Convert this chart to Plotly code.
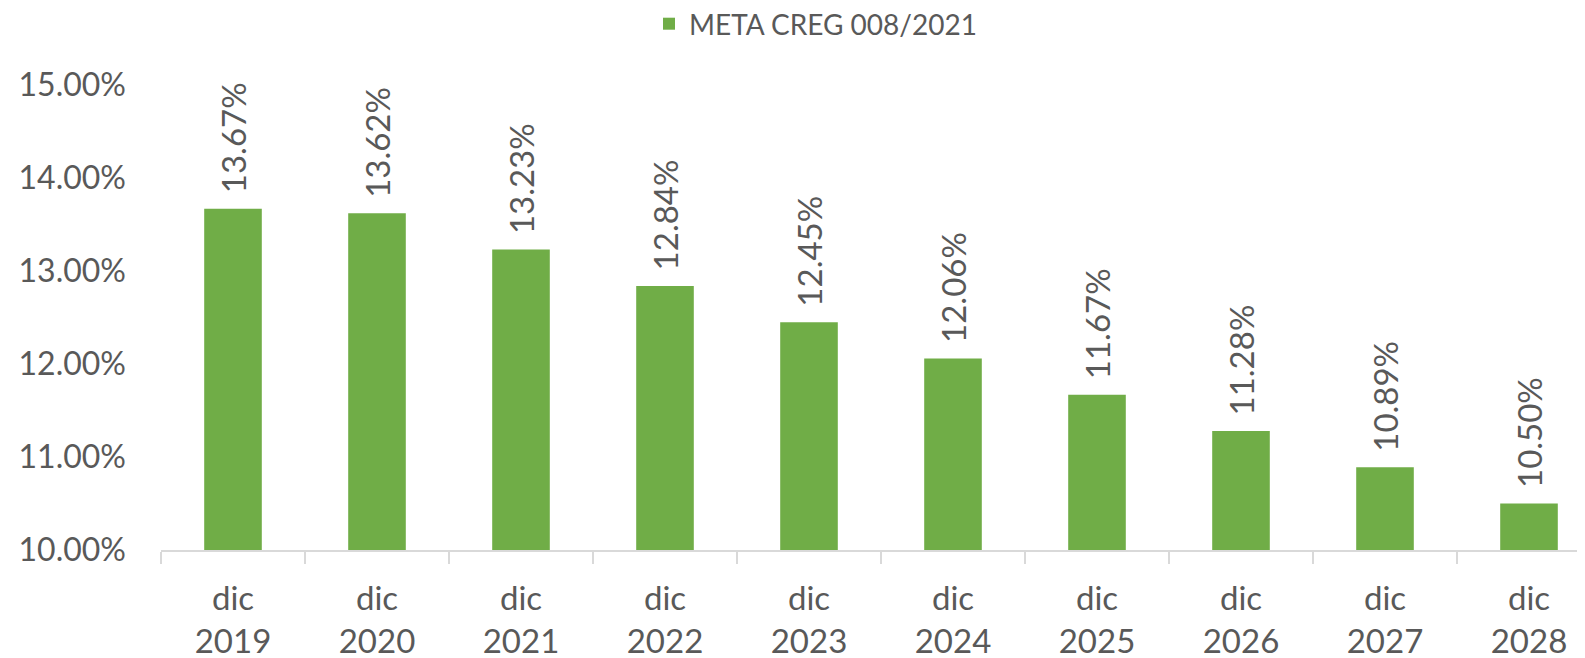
import plotly.graph_objects as go

categories = ["dic<br>2019", "dic<br>2020", "dic<br>2021", "dic<br>2022", "dic<br>2023",
              "dic<br>2024", "dic<br>2025", "dic<br>2026", "dic<br>2027", "dic<br>2028"]
values = [13.67, 13.62, 13.23, 12.84, 12.45, 12.06, 11.67, 11.28, 10.89, 10.50]
labels = [f"{v:.2f}%" for v in values]
tick_vals = [10, 11, 12, 13, 14, 15]
tick_text = [f"{v:.2f}%" for v in tick_vals]

GREEN = "#70AD47"
GREY = "#595959"
FONT = "Lato"

fig = go.Figure()
fig.add_trace(go.Bar(
    x=categories, y=values,
    name="META CREG 008/2021",
    marker=dict(color=GREEN, line=dict(width=0)),
    width=0.4,
    cliponaxis=False,
))

for c, v, t in zip(categories, values, labels):
    fig.add_annotation(
        x=c, y=v, xref="x", yref="y", text=t, showarrow=False,
        textangle=-90, yanchor="bottom", xanchor="center", yshift=13,
        font=dict(family=FONT, size=33, color=GREY),
    )

fig.update_layout(
    width=1585, height=658,
    margin=dict(l=153, r=0, t=77, b=116, autoexpand=False),
    paper_bgcolor="white", plot_bgcolor="white",
    font=dict(family=FONT, color=GREY),
    showlegend=True,
    legend=dict(orientation="h", x=(649 - 161) / 1432, xanchor="left",
                y=1 + 86 / 465, yref="paper", yanchor="top",
                font=dict(family=FONT, size=28, color=GREY)),
)
fig.update_xaxes(
    range=[-0.5, -0.5 + 1432 / 144], automargin=False,
    showline=True, linecolor="#D9D9D9", linewidth=1.5,
    ticks="outside", tickson="boundaries", ticklen=12, tickcolor="#D9D9D9", tickwidth=1.5,
    tickfont=dict(family=FONT, size=33, color=GREY),
    ticklabelstandoff=19,
    showgrid=False,
)
fig.update_yaxes(
    range=[10, 15], tickvals=tick_vals, ticktext=tick_text, automargin=False,
    showgrid=False, showline=False, zeroline=False,
    tickfont=dict(family=FONT, size=32, color=GREY),
    ticklabelstandoff=34,
)

fig.write_html("out.html")
